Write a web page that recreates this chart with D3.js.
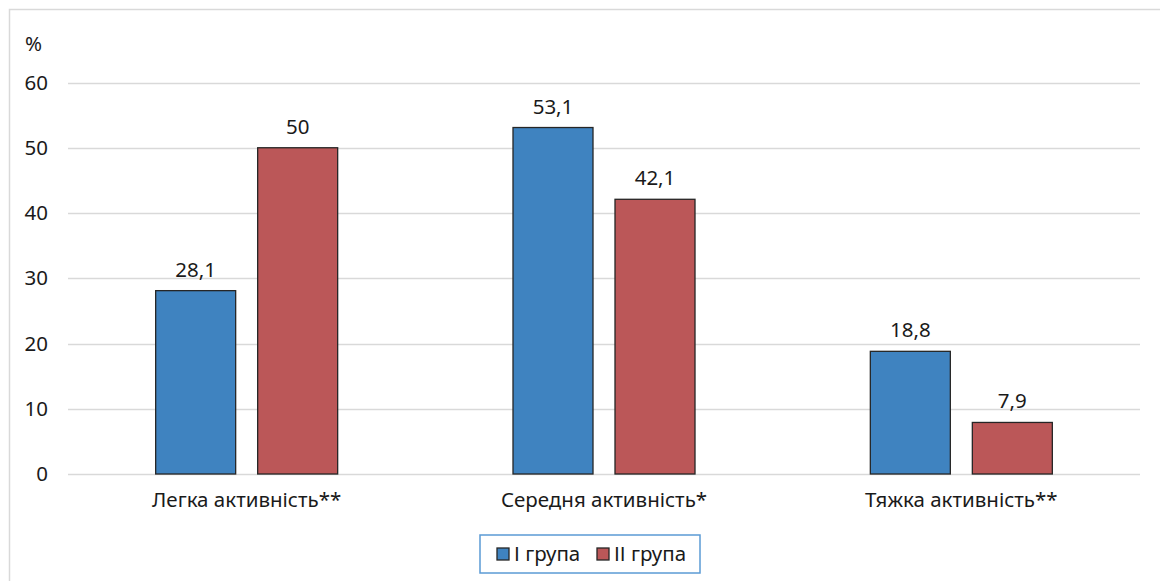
<!DOCTYPE html>
<html><head><meta charset="utf-8">
<script src="https://cdn.jsdelivr.net/npm/d3@7"></script>
<style>body{margin:0;background:#fff;}svg{display:block;font-family:"Noto Sans","Open Sans",sans-serif;}</style>
</head><body>
<svg id="c" width="1160" height="581"></svg>
<script>
const categories = ["Легка активність**", "Середня активність*", "Тяжка активність**"];
const seriesNames = ["І група", "ІІ група"];
const group1 = [28.1, 53.1, 18.8];
const group2 = [50, 42.1, 7.9];
const yTicks = [0, 10, 20, 30, 40, 50, 60];
const colors = ["#3f83c0", "#bb5758"];
const FS = 20.5;

const svg = d3.select("#c");
svg.append("rect").attr("x", 9.5).attr("y", 9.5).attr("width", 1200).attr("height", 600)
  .attr("fill", "#fff").attr("stroke", "#d9d9d9").attr("stroke-width", 1.5);

const left = 68, right = 1140;
const y = d3.scaleLinear().domain([0, 60]).range([474, 82.5]);
const x0 = d3.scaleBand().domain(categories).range([left, right]);
const x1 = d3.scaleBand().domain(seriesNames).range([0, 182]).paddingInner(22/102);

svg.append("g").selectAll("line").data(yTicks).join("line")
  .attr("x1", left).attr("x2", right)
  .attr("y1", d => Math.round(y(d)) + 0.5).attr("y2", d => Math.round(y(d)) + 0.5)
  .attr("stroke", "#d9d9d9").attr("stroke-width", 1.5);

svg.append("g").selectAll("text").data(yTicks).join("text")
  .attr("x", 48).attr("y", d => y(d)).attr("dy", "0.35em")
  .attr("text-anchor", "end").attr("font-size", FS).attr("fill", "#1a1a1a").text(d => d);
svg.append("text").attr("x", 25).attr("y", 44).attr("dy", "0.35em")
  .attr("font-size", FS).attr("fill", "#1a1a1a").text("%");

const data = categories.map((c, i) => ({c, vals: [group1[i], group2[i]]}));
const g = svg.append("g");
data.forEach(d => {
  const cx = x0(d.c) + x0.bandwidth() / 2 - 91;
  d.vals.forEach((v, j) => {
    const bx = cx + x1(seriesNames[j]);
    g.append("rect").attr("x", bx).attr("y", y(v)).attr("width", x1.bandwidth())
      .attr("height", y(0) - y(v)).attr("fill", colors[j]).attr("stroke", "#262626").attr("stroke-width", 1.3);
    g.append("text").attr("x", bx + x1.bandwidth() / 2).attr("y", y(v) - 14)
      .attr("text-anchor", "middle").attr("font-size", FS).attr("fill", "#1a1a1a")
      .text(String(v).replace(".", ","));
  });
});

svg.append("g").selectAll("text").data(categories).join("text")
  .attr("x", d => x0(d) + x0.bandwidth() / 2).attr("y", 500).attr("dy", "0.35em")
  .attr("text-anchor", "middle").attr("font-size", FS).attr("fill", "#1a1a1a").text(d => d);

const lg = svg.append("g");
lg.append("rect").attr("x", 480).attr("y", 535).attr("width", 220).attr("height", 38)
  .attr("fill", "#fff").attr("stroke", "#5b9bd5").attr("stroke-width", 1.5);
const lx = [497, 597];
seriesNames.forEach((s, j) => {
  lg.append("rect").attr("x", lx[j]).attr("y", 548).attr("width", 12).attr("height", 12)
    .attr("fill", colors[j]).attr("stroke", "#262626").attr("stroke-width", 1.3);
  lg.append("text").attr("x", lx[j] + 17).attr("y", 554).attr("dy", "0.35em")
    .attr("font-size", FS).attr("fill", "#1a1a1a").text(s);
});
</script>
</body></html>
